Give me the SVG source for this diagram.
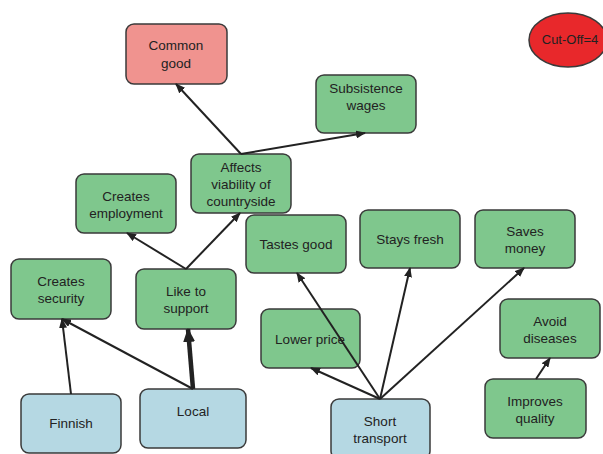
<svg xmlns="http://www.w3.org/2000/svg" width="603" height="454" viewBox="0 0 603 454">
  <style>
    .node rect { stroke: #3a3a3a; stroke-width: 1.5; }
    .green rect { fill: #7fc78d; }
    .blue rect { fill: #b5d8e3; }
    .red rect { fill: #f0938f; }
    text { font-family: "Liberation Sans", Arial, sans-serif; font-size: 13.5px; fill: #222; text-anchor: middle; }
    .edge { stroke: #222; stroke-width: 2; fill: none; marker-end: url(#arrow); }
    .edge.thick { stroke-width: 4.5; marker-end: url(#arrowBig); }
  </style>
  <defs>
    <marker id="arrow" markerUnits="userSpaceOnUse" markerWidth="10" markerHeight="8" refX="9" refY="4" orient="auto">
      <path d="M0,0 L10,4 L0,8 Z" fill="#222"/>
    </marker>
    <marker id="arrowBig" markerUnits="userSpaceOnUse" markerWidth="14" markerHeight="12" refX="13" refY="6" orient="auto">
      <path d="M0,0 L14,6 L0,12 Z" fill="#222"/>
    </marker>
  </defs>

  <g id="common-good" class="node red">
    <rect x="126" y="24" width="101" height="60" rx="8"/>
    <text x="176" y="50">Common</text>
    <text x="176" y="68">good</text>
  </g>

  <g id="cut-off">
    <ellipse cx="568" cy="40" rx="39" ry="27" fill="#e8282b" stroke="#3a3a3a" stroke-width="1.5"/>
    <text x="570" y="44" style="font-size:13px">Cut-Off=4</text>
  </g>

  <g id="subsistence-wages" class="node green">
    <rect x="316" y="75" width="100" height="58" rx="8"/>
    <text x="366" y="93">Subsistence</text>
    <text x="366" y="110">wages</text>
  </g>

  <g id="affects-viability" class="node green">
    <rect x="191" y="154" width="100" height="59" rx="8"/>
    <text x="241" y="172">Affects</text>
    <text x="241" y="189">viability of</text>
    <text x="241" y="206">countryside</text>
  </g>

  <g id="creates-employment" class="node green">
    <rect x="76" y="174" width="100" height="59" rx="8"/>
    <text x="126" y="201">Creates</text>
    <text x="126" y="218">employment</text>
  </g>

  <g id="creates-security" class="node green">
    <rect x="11" y="259" width="100" height="60" rx="8"/>
    <text x="61" y="286">Creates</text>
    <text x="61" y="303">security</text>
  </g>

  <g id="like-to-support" class="node green">
    <rect x="136" y="269" width="100" height="60" rx="8"/>
    <text x="186" y="296">Like to</text>
    <text x="186" y="313">support</text>
  </g>

  <g id="tastes-good" class="node green">
    <rect x="246" y="215" width="100" height="58" rx="8"/>
    <text x="296" y="249">Tastes good</text>
  </g>

  <g id="stays-fresh" class="node green">
    <rect x="360" y="210" width="100" height="58" rx="8"/>
    <text x="410" y="244">Stays fresh</text>
  </g>

  <g id="saves-money" class="node green">
    <rect x="475" y="210" width="100" height="58" rx="8"/>
    <text x="525" y="236">Saves</text>
    <text x="525" y="253">money</text>
  </g>

  <g id="lower-price" class="node green">
    <rect x="261" y="309" width="99" height="59" rx="8"/>
    <text x="310" y="344">Lower price</text>
  </g>

  <g id="avoid-diseases" class="node green">
    <rect x="500" y="299" width="100" height="59" rx="8"/>
    <text x="550" y="326">Avoid</text>
    <text x="550" y="343">diseases</text>
  </g>

  <g id="improves-quality" class="node green">
    <rect x="485" y="379" width="101" height="59" rx="8"/>
    <text x="535" y="406">Improves</text>
    <text x="535" y="423">quality</text>
  </g>

  <g id="finnish" class="node blue">
    <rect x="21" y="394" width="100" height="59" rx="8"/>
    <text x="71" y="428">Finnish</text>
  </g>

  <g id="local" class="node blue">
    <rect x="140" y="389" width="106" height="59" rx="8"/>
    <text x="193" y="416">Local</text>
  </g>

  <g id="short-transport" class="node blue">
    <rect x="331" y="399" width="99" height="60" rx="8"/>
    <text x="380" y="426">Short</text>
    <text x="380" y="443">transport</text>
  </g>

  <!-- connectors drawn last so crossing lines stay visible over boxes -->
  <g id="connectors">
    <line class="edge" x1="241" y1="154" x2="176" y2="84"/>
    <line class="edge" x1="241" y1="154" x2="365" y2="133"/>
    <line class="edge" x1="186" y1="269" x2="127" y2="233"/>
    <line class="edge" x1="186" y1="269" x2="240" y2="213"/>
    <line class="edge thick" x1="193" y1="389" x2="188" y2="329"/>
    <line class="edge" x1="193" y1="389" x2="62" y2="319"/>
    <line class="edge" x1="71" y1="394" x2="62" y2="319"/>
    <line class="edge" x1="380" y1="399" x2="311" y2="368"/>
    <line class="edge" x1="380" y1="399" x2="297" y2="273"/>
    <line class="edge" x1="380" y1="399" x2="410" y2="268"/>
    <line class="edge" x1="380" y1="399" x2="524" y2="268"/>
    <line class="edge" x1="536" y1="379" x2="550" y2="358"/>
  </g>
</svg>
